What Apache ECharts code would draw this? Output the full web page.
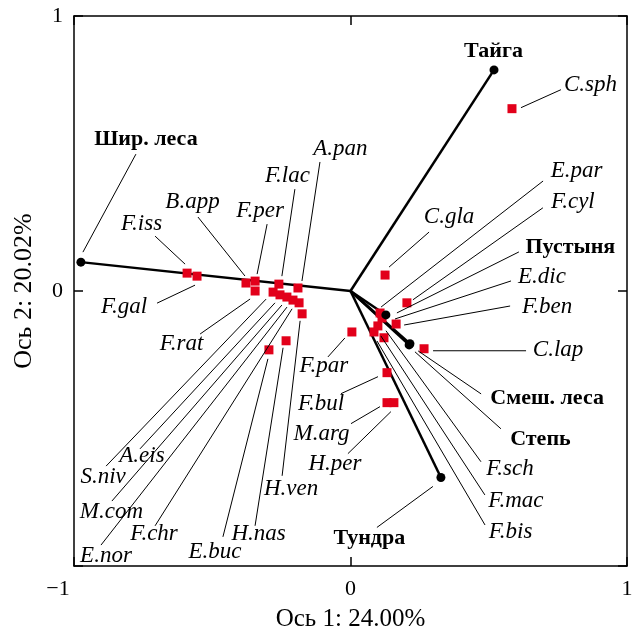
<!DOCTYPE html>
<html>
<head>
<meta charset="utf-8">
<script src="https://cdn.jsdelivr.net/npm/echarts@6/dist/echarts.min.js"></script>
<style>
  html, body { margin: 0; padding: 0; background: #fff; }
  #chart { width: 638px; height: 637px; }
</style>
</head>
<body>
<div id="chart"></div>
<script>
// Species scores on the first two ordination axes
const speciesNames = ['F.iss', 'F.gal', 'B.app', 'F.per', 'F.rat', 'F.lac', 'A.pan',
  'S.niv', 'A.eis', 'M.com', 'E.nor', 'F.chr', 'E.buc', 'H.nas', 'H.ven',
  'C.sph', 'C.gla', 'E.par', 'F.cyl', 'E.dic', 'F.ben', 'F.sch', 'F.mac', 'F.bis',
  'C.lap', 'F.par', 'F.bul', 'M.arg', 'H.per'];
const speciesAxis1 = [-0.591, -0.555, -0.378, -0.345, -0.345, -0.259, -0.190,
  -0.280, -0.255, -0.230, -0.208, -0.186, -0.295, -0.233, -0.175,
  0.584, 0.125, 0.107, 0.204, 0.114, 0.165, 0.121, 0.099, 0.085,
  0.266, 0.005, 0.132, 0.132, 0.157];
const speciesAxis2 = [0.065, 0.054, 0.029, 0.036, 0.000, 0.025, 0.011,
  -0.004, -0.014, -0.022, -0.033, -0.043, -0.214, -0.181, -0.083,
  0.663, 0.058, -0.080, -0.043, -0.098, -0.120, -0.170, -0.127, -0.149,
  -0.210, -0.149, -0.297, -0.406, -0.406];

// Biome vectors (arrow tips)
const biomeNames = ['Шир. леса', 'Тайга', 'Пустыня', 'Смеш. леса', 'Степь', 'Тундра'];
const biomeAxis1 = [-0.975, 0.519, 0.128, 0.212, 0.215, 0.327];
const biomeAxis2 = [0.105, 0.804, -0.087, -0.196, -0.192, -0.678];

// Axis ticks and titles
const axisTicks = [-1, 0, 1];
const axis1Title = 'Ось 1: 24.00%';
const axis2Title = 'Ось 2: 20.02%';

// Label placement: text centre and leader line [x1, y1, x2, y2], in pixels relative to the mark
const labelLayout = {
  'F.iss': { t: [-45.5, -49], l: [-32, -37, -2, -9] },
  'F.gal': { t: [-73, 31], l: [-40, 27, -2, 9] },
  'B.app': { t: [-53.5, -81], l: [-48, -66, -1, -7] },
  'F.per': { t: [5, -70], l: [12, -57, 2, -7] },
  'F.rat': { t: [-73.5, 53], l: [-55, 43, -5, 8] },
  'F.lac': { t: [8.5, -108], l: [16, -95, 3, -8] },
  'A.pan': { t: [42.5, -139], l: [22, -126, 4, -7] },
  'S.niv': { t: [-170, 185], l: [-167, 174, -7, 7] },
  'A.eis': { t: [-138, 161], l: [-140, 154, -5, 8] },
  'M.com': { t: [-175.5, 215], l: [-175, 204, -5, 8] },
  'E.nor': { t: [-187, 256], l: [-192, 245, -6, 7] },
  'F.chr': { t: [-145, 231], l: [-144, 223, -7, 6] },
  'E.buc': { t: [-54, 202], l: [-46, 187, -1, 9] },
  'H.nas': { t: [-27.5, 193], l: [-31, 185, -3, 7] },
  'H.ven': { t: [-11, 175], l: [-20, 162, -2, 7] },
  'C.sph': { t: [78.5, -24], l: [9, -1, 49, -19] },
  'C.gla': { t: [64, -58], l: [4, -8, 44, -43] },
  'E.par': { t: [196.5, -142], l: [163, -132, 1, -6] },
  'F.cyl': { t: [166, -101], l: [136, -95, 6, -3] },
  'E.dic': { t: [160, -41], l: [129, -37, 13, 1] },
  'F.ben': { t: [151, -17], l: [114, -18, 8, 1] },
  'F.sch': { t: [126, 131], l: [97, 124, 2, -7] },
  'F.mac': { t: [138, 175], l: [107, 169, 3, 10] },
  'F.bis': { t: [136.5, 200], l: [111, 193, 3, 9] },
  'C.lap': { t: [134, 1], l: [9, 2, 102, 2] },
  'F.par': { t: [-28, 34], l: [-24, 25, -7, 6] },
  'F.bul': { t: [-66, 31], l: [-46, 21, -9, 4] },
  'M.arg': { t: [-65.5, 31], l: [-36, 21, -7, 4] },
  'H.per': { t: [-59, 61], l: [-46, 51, -3, 9] },
  'Шир. леса': { t: [65, -123], l: [55, -108, 2, -10] },
  'Тайга': { t: [-0.5, -19] },
  'Пустыня': { t: [184.5, -68], l: [133, -63, 11, -2] },
  'Смеш. леса': { t: [138, 53], l: [72, 49, 9, 6] },
  'Степь': { t: [130.5, 96], l: [91, 85, 5, 8] },
  'Тундра': { t: [-71.5, 61], l: [-64, 50, -8, 9] }
};

const SERIF = '"Liberation Serif", "Times New Roman", serif';
const RED = '#e2001a';

const speciesData = speciesNames.map((n, i) => [speciesAxis1[i], speciesAxis2[i], i]);
const biomeData = biomeNames.map((n, i) => [biomeAxis1[i], biomeAxis2[i], i]);

function annotate(names, italic) {
  return function (params, api) {
    const name = names[api.value(2)];
    const p = api.coord([api.value(0), api.value(1)]);
    const L = labelLayout[name];
    const children = [];
    if (L.l) {
      children.push({
        type: 'line',
        shape: { x1: p[0] + L.l[0], y1: p[1] + L.l[1], x2: p[0] + L.l[2], y2: p[1] + L.l[3] },
        style: { stroke: '#000', lineWidth: 1 }
      });
    }
    children.push({
      type: 'text',
      x: p[0] + L.t[0],
      y: p[1] + L.t[1],
      style: {
        text: name,
        fill: '#000',
        font: (italic ? 'italic 23px ' : 'bold 22px ') + SERIF,
        align: 'center',
        verticalAlign: 'middle'
      }
    });
    return { type: 'group', children };
  };
}

const axisLineStyle = { color: '#000', width: 1.5 };

const chart = echarts.init(document.getElementById('chart'), null, { renderer: 'canvas' });
chart.setOption({
  backgroundColor: '#fff',
  animation: false,
  grid: { left: 74, right: 11, top: 16, bottom: 69, containLabel: false },
  xAxis: [{
    type: 'value', min: axisTicks[0], max: axisTicks[2], interval: 1, position: 'bottom',
    name: axis1Title, nameLocation: 'middle', nameGap: 41,
    nameTextStyle: { fontFamily: SERIF, fontSize: 25, color: '#000' },
    axisLine: { show: true, onZero: false, lineStyle: axisLineStyle },
    axisTick: { show: true, inside: true, length: 9, lineStyle: axisLineStyle },
    splitLine: { show: false },
    axisLabel: {
      margin: 12, fontFamily: SERIF, fontSize: 22, color: '#000',
      formatter: v => v < 0 ? '{neg|−' + Math.abs(v) + '}' : String(v),
      rich: { neg: { fontFamily: SERIF, fontSize: 22, color: '#000', padding: [0, 32, 0, 0] } }
    }
  }, {
    type: 'value', min: axisTicks[0], max: axisTicks[2], interval: 1, position: 'top',
    axisLine: { show: true, onZero: false, lineStyle: axisLineStyle },
    axisTick: { show: true, inside: true, length: 9, lineStyle: axisLineStyle },
    splitLine: { show: false }, axisLabel: { show: false }
  }],
  yAxis: [{
    type: 'value', min: axisTicks[0], max: axisTicks[2], interval: 1, position: 'left',
    name: axis2Title, nameLocation: 'middle', nameGap: 37, nameRotate: 90,
    nameTextStyle: { fontFamily: SERIF, fontSize: 26, color: '#000' },
    axisLine: { show: true, onZero: false, lineStyle: axisLineStyle },
    axisTick: { show: true, inside: true, length: 9, lineStyle: axisLineStyle },
    splitLine: { show: false },
    axisLabel: {
      margin: 11, fontFamily: SERIF, fontSize: 22, color: '#000',
      formatter: v => v < 0 ? '' : String(v)
    }
  }, {
    type: 'value', min: axisTicks[0], max: axisTicks[2], interval: 1, position: 'right',
    axisLine: { show: true, onZero: false, lineStyle: axisLineStyle },
    axisTick: { show: true, inside: true, length: 9, lineStyle: axisLineStyle },
    splitLine: { show: false }, axisLabel: { show: false }
  }],
  series: [
    {
      // biome vectors from the origin
      type: 'lines', coordinateSystem: 'cartesian2d', z: 2, silent: true,
      lineStyle: { color: '#000', width: 2.5, opacity: 1 },
      data: biomeNames.map((n, i) => ({ coords: [[0, 0], [biomeAxis1[i], biomeAxis2[i]]] }))
    },
    {
      type: 'scatter', z: 3, symbol: 'rect', symbolSize: 9,
      itemStyle: { color: RED, opacity: 1 },
      data: speciesData
    },
    {
      type: 'scatter', z: 4, symbol: 'circle', symbolSize: 9,
      itemStyle: { color: '#000', opacity: 1 },
      data: biomeData
    },
    {
      type: 'custom', z: 5, clip: false, silent: true,
      renderItem: annotate(speciesNames, true),
      data: speciesData
    },
    {
      type: 'custom', z: 5, clip: false, silent: true,
      renderItem: annotate(biomeNames, false),
      data: biomeData
    }
  ]
});
</script>
</body>
</html>
